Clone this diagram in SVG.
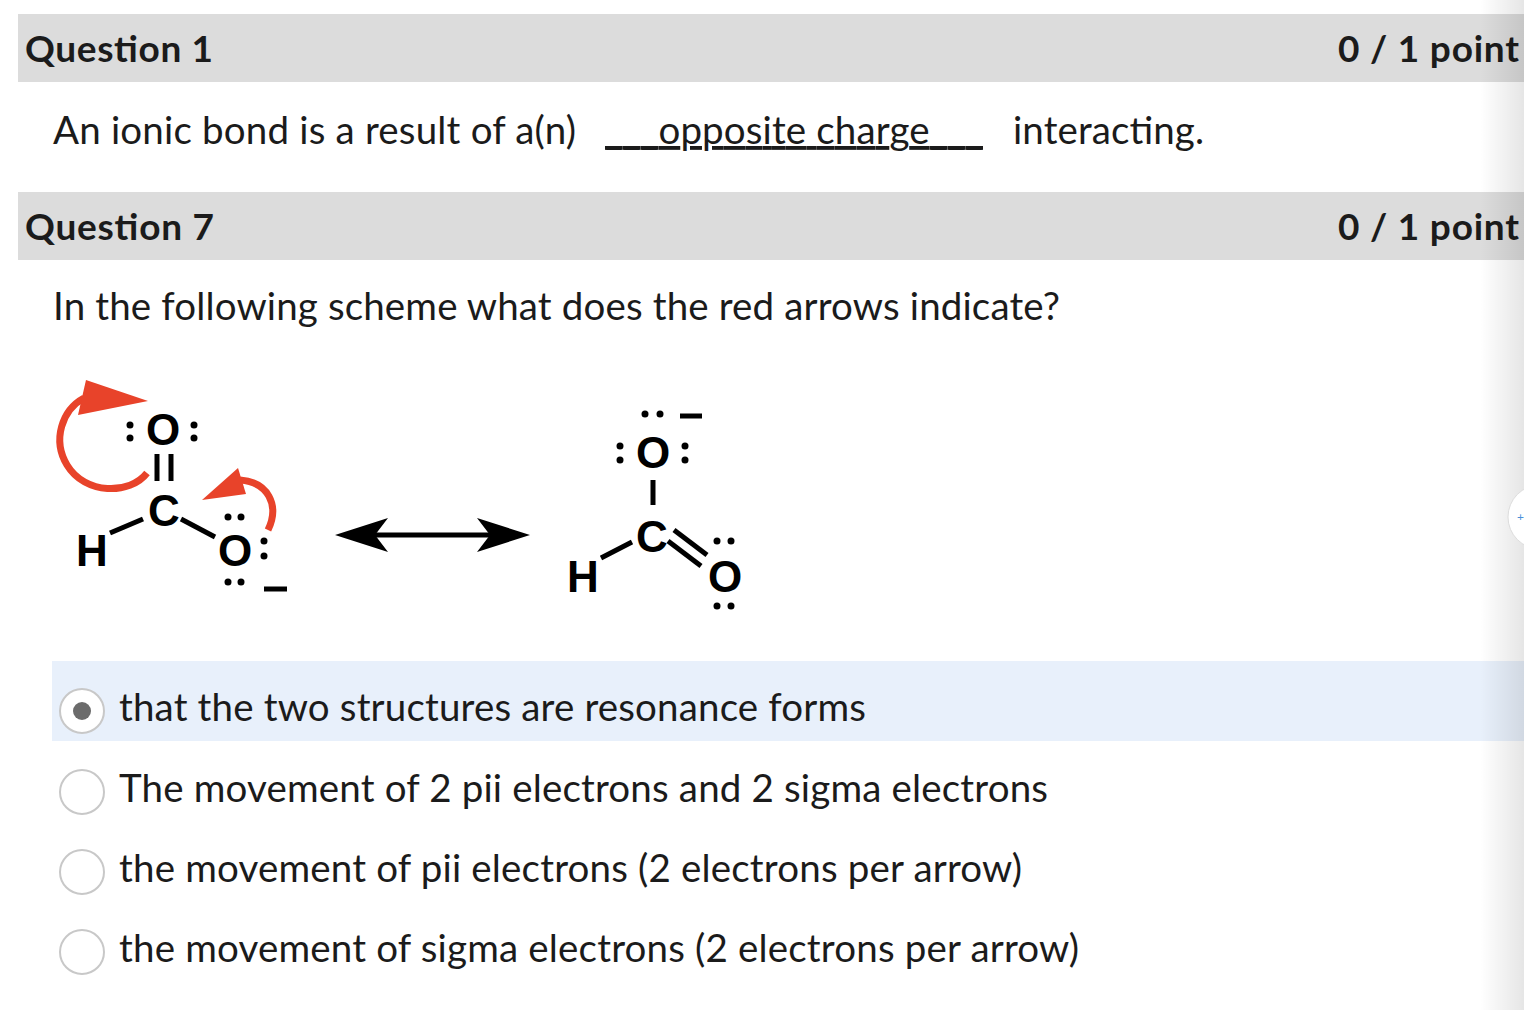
<svg xmlns="http://www.w3.org/2000/svg" width="1524" height="1010" viewBox="0 0 1524 1010">
<defs>
<style>
.t{font-family:Lato,"Open Sans",sans-serif;fill:#1b1b1b}
.h{font-size:37px;font-weight:bold}
.b{font-size:38.5px}
.a{font-family:"Liberation Sans",Arial,sans-serif;font-weight:bold;font-size:44px;fill:#000;text-anchor:middle}
.bond{stroke:#000;stroke-width:5;fill:none}
.radio{fill:#fff;stroke:#c8c8c8;stroke-width:2}
</style>
<linearGradient id="sh" x1="0" x2="1" y1="0" y2="0">
<stop offset="0" stop-color="#000" stop-opacity="0"/>
<stop offset="1" stop-color="#000" stop-opacity="0.1"/>
</linearGradient>
</defs>
<rect width="1524" height="1010" fill="#fff"/>
<g id="q1">
<rect x="18" y="14" width="1506" height="68" fill="#dcdcdc"/>
<text class="t h" x="25" y="62" textLength="188">Question 1</text>
<text class="t h" x="1338" y="62" textLength="181">0 / 1 point</text>
<text class="t b" x="53" y="144" textLength="523">An ionic bond is a result of a(n)</text>
<text class="t b" x="605" y="144" textLength="378" text-decoration="underline">___opposite charge___</text>
<text class="t b" x="1013" y="144" textLength="191">interacting.</text>
</g>
<g id="q7">
<rect x="18" y="192" width="1506" height="68" fill="#dcdcdc"/>
<text class="t h" x="25" y="240" textLength="189">Question 7</text>
<text class="t h" x="1338" y="240" textLength="181">0 / 1 point</text>
<text class="t b" x="53" y="320" textLength="1007">In the following scheme what does the red arrows indicate?</text>
</g>
<g id="mol1">
<text class="a" x="163" y="445">O</text>
<g fill="#000"><circle cx="130" cy="425" r="3.5"/><circle cx="130" cy="438" r="3.5"/><circle cx="194" cy="425" r="3.5"/><circle cx="194" cy="438" r="3.5"/>
<circle cx="228" cy="517" r="3.5"/><circle cx="241" cy="517" r="3.5"/><circle cx="264" cy="541" r="3.5"/><circle cx="264" cy="556" r="3.5"/><circle cx="228" cy="582" r="3.5"/><circle cx="241" cy="582" r="3.5"/></g>
<line class="bond" x1="157" y1="454" x2="157" y2="481"/><line class="bond" x1="171" y1="454" x2="171" y2="481"/>
<text class="a" x="164" y="526">C</text>
<text class="a" x="92" y="566">H</text>
<text class="a" x="235" y="566">O</text>
<line class="bond" x1="110" y1="533" x2="143" y2="519"/><line class="bond" x1="181" y1="519" x2="215" y2="537"/>
<line class="bond" x1="264" y1="589" x2="287" y2="589"/>
<path d="M147,473 C130,495 85,495 67,465 C52,440 62,410 84,398" stroke="#e8432a" stroke-width="7" fill="none"/>
<polygon points="86,380 148,401 78,415" fill="#e8432a"/>
<path d="M268,530 C280,505 268,482 240,480" stroke="#e8432a" stroke-width="7" fill="none"/>
<polygon points="238,468 246,494 202,500" fill="#e8432a"/>
</g>
<g id="arrow">
<line class="bond" x1="360" y1="535" x2="505" y2="535"/>
<polygon points="335,535 388,518 375,535 388,552" fill="#000"/>
<polygon points="530,535 477,518 490,535 477,552" fill="#000"/>
</g>
<g id="mol2">
<text class="a" x="653" y="468">O</text>
<g fill="#000"><circle cx="645" cy="414" r="3.5"/><circle cx="660" cy="414" r="3.5"/><circle cx="620" cy="446" r="3.5"/><circle cx="620" cy="460" r="3.5"/><circle cx="685" cy="446" r="3.5"/><circle cx="685" cy="460" r="3.5"/>
<circle cx="717" cy="541" r="3.5"/><circle cx="731" cy="541" r="3.5"/><circle cx="717" cy="606" r="3.5"/><circle cx="731" cy="606" r="3.5"/></g>
<line class="bond" x1="680" y1="416" x2="702" y2="416"/>
<line class="bond" x1="653" y1="480" x2="653" y2="505"/>
<text class="a" x="652" y="552">C</text>
<text class="a" x="583" y="592">H</text>
<text class="a" x="725" y="592">O</text>
<line class="bond" x1="601" y1="558" x2="632" y2="542"/>
<line class="bond" x1="674" y1="530" x2="707" y2="555"/><line class="bond" x1="668" y1="541" x2="701" y2="566"/>
</g>
<g id="options">
<rect x="52" y="661" width="1472" height="80" fill="#e8f0fb"/>
<circle class="radio" cx="82" cy="711" r="22"/><circle cx="82" cy="711" r="9" fill="#6b6b6b"/>
<text class="t b" x="119" y="721" textLength="747">that the two structures are resonance forms</text>
<circle class="radio" cx="82" cy="792" r="22"/>
<text class="t b" x="119" y="802" textLength="929">The movement of 2 pii electrons and 2 sigma electrons</text>
<circle class="radio" cx="82" cy="872" r="22"/>
<text class="t b" x="119" y="882" textLength="903">the movement of pii electrons (2 electrons per arrow)</text>
<circle class="radio" cx="82" cy="952" r="22"/>
<text class="t b" x="119" y="962" textLength="960">the movement of sigma electrons (2 electrons per arrow)</text>
</g>
<rect x="1480" y="0" width="44" height="1010" fill="url(#sh)"/>
<circle cx="1540" cy="517" r="32" fill="#fff" stroke="#ddd"/>
<text x="1517" y="521" font-family="Lato,sans-serif" font-size="12" fill="#4a90d9">+</text>
</svg>
